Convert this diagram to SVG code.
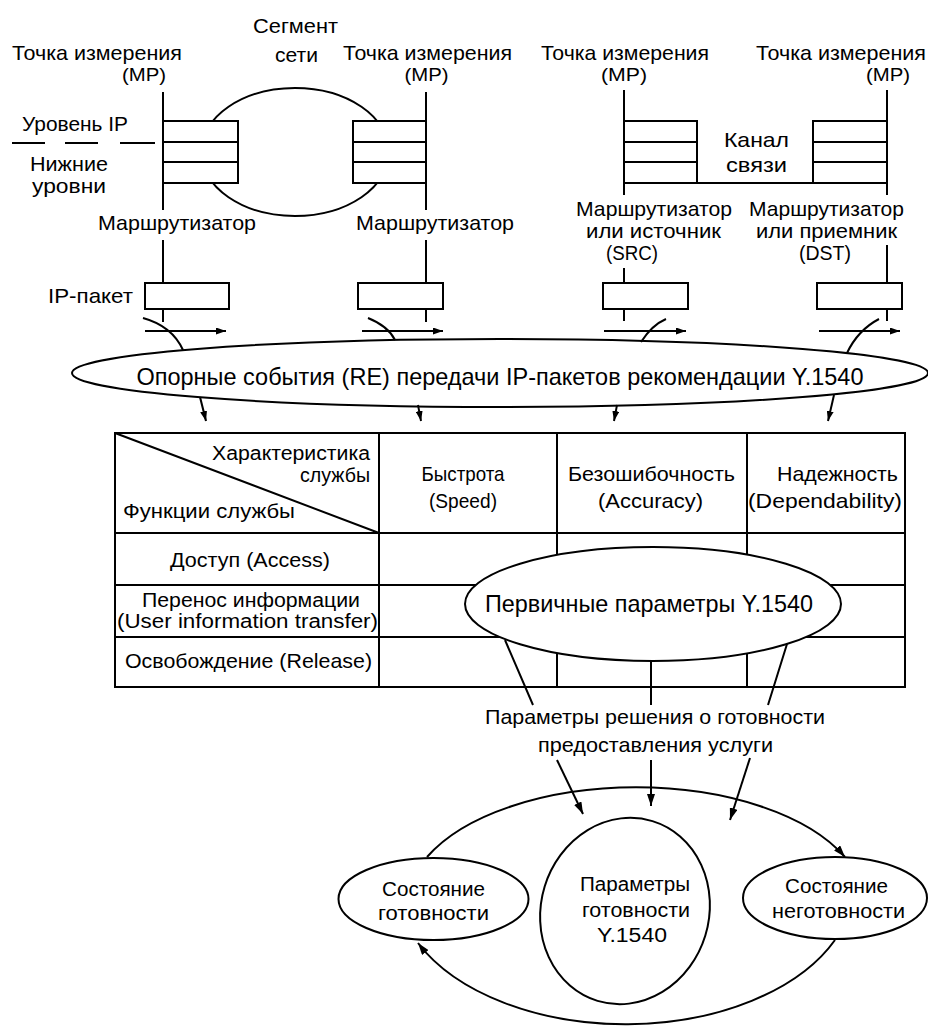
<svg xmlns="http://www.w3.org/2000/svg" width="928" height="1027" viewBox="0 0 928 1027">
<style>
.t{font-family:"Liberation Sans",Arial,sans-serif;font-size:21px;fill:#000}
.tb{font-size:20px}
.tc{font-size:21px}
.mp{font-size:19px}
.lv{font-size:20px}
.big{font-size:24px}
.m{text-anchor:middle}
.ln{stroke:#000;stroke-width:2;fill:none}
.wf{fill:#fff;stroke:#000;stroke-width:2}
</style>
<defs>
<marker id="ah" viewBox="0 0 12 8" refX="12" refY="4" markerWidth="12" markerHeight="8" markerUnits="userSpaceOnUse" orient="auto"><path d="M0,0 L12,4 L0,8 z" fill="#000"/></marker>
<marker id="ahs" viewBox="0 0 10 7" refX="10" refY="3.5" markerWidth="10" markerHeight="7" markerUnits="userSpaceOnUse" orient="auto"><path d="M0,0 L10,3.5 L0,7 z" fill="#000"/></marker>
</defs>
<rect width="928" height="1027" fill="#fff"/>

<g id="segment">
<ellipse class="ln" cx="295" cy="152" rx="94" ry="64"/>
<text class="t m" x="295.5" y="33" textLength="85" lengthAdjust="spacingAndGlyphs">Сегмент</text>
<text class="t m" x="296.5" y="62" textLength="43" lengthAdjust="spacingAndGlyphs">сети</text>
</g>

<g id="levels">
<path class="ln" d="M12,143H45M65,143H98M120,143H155"/>
<text class="t" x="22" y="131" textLength="106" lengthAdjust="spacingAndGlyphs">Уровень IP</text>
<text class="t lv" x="30" y="171" textLength="78" lengthAdjust="spacingAndGlyphs">Нижние</text>
<text class="t lv" x="32" y="193" textLength="74" lengthAdjust="spacingAndGlyphs">уровни</text>
</g>

<g id="mp1">
<text class="t m" x="97" y="60" textLength="170" lengthAdjust="spacingAndGlyphs">Точка измерения</text>
<text class="t mp m" x="144" y="81" textLength="44" lengthAdjust="spacingAndGlyphs">(MP)</text>
<path class="ln" d="M163,92V210M163,240V283M163,309V322"/>
<rect class="wf" x="163" y="121" width="75" height="62"/>
<path class="ln" d="M163,142H238M163,162H238"/>
<text class="t m" x="177" y="230" textLength="158" lengthAdjust="spacingAndGlyphs">Маршрутизатор</text>
<rect class="wf" x="145" y="283" width="84" height="26"/>
<text class="t m" x="90.5" y="303" textLength="85" lengthAdjust="spacingAndGlyphs">IP-пакет</text>
</g>

<g id="mp2">
<text class="t m" x="427.5" y="60" textLength="169" lengthAdjust="spacingAndGlyphs">Точка измерения</text>
<text class="t mp m" x="426.5" y="81" textLength="44" lengthAdjust="spacingAndGlyphs">(MP)</text>
<path class="ln" d="M426,92V210M426,240V283M426,309V322"/>
<rect class="wf" x="353" y="121" width="73" height="62"/>
<path class="ln" d="M353,142H426M353,162H426"/>
<text class="t m" x="435" y="230" textLength="158" lengthAdjust="spacingAndGlyphs">Маршрутизатор</text>
<rect class="wf" x="358" y="283" width="85" height="26"/>
</g>

<g id="channel">
<path class="ln" d="M697,183H813"/>
<text class="t m" x="756.5" y="147" textLength="65" lengthAdjust="spacingAndGlyphs">Канал</text>
<text class="t m" x="756.5" y="172" textLength="61" lengthAdjust="spacingAndGlyphs">связи</text>
</g>

<g id="mp3">
<text class="t m" x="625" y="60" textLength="168" lengthAdjust="spacingAndGlyphs">Точка измерения</text>
<text class="t mp m" x="624" y="81" textLength="46" lengthAdjust="spacingAndGlyphs">(MP)</text>
<path class="ln" d="M624,90V195M624,268V283M624,309V321"/>
<rect class="wf" x="624" y="121" width="73" height="62"/>
<path class="ln" d="M624,142H697M624,162H697"/>
<text class="t m" x="654" y="216" textLength="156" lengthAdjust="spacingAndGlyphs">Маршрутизатор</text>
<text class="t m" x="653.5" y="238" textLength="135" lengthAdjust="spacingAndGlyphs">или источник</text>
<text class="t m" x="632" y="260" textLength="52" lengthAdjust="spacingAndGlyphs">(SRC)</text>
<rect class="wf" x="603" y="283" width="85" height="26"/>
</g>

<g id="mp4">
<text class="t m" x="841" y="60" textLength="170" lengthAdjust="spacingAndGlyphs">Точка измерения</text>
<text class="t mp m" x="888" y="81" textLength="44" lengthAdjust="spacingAndGlyphs">(MP)</text>
<path class="ln" d="M887,90V195M887,245V283M887,309V321"/>
<rect class="wf" x="813" y="121" width="74" height="62"/>
<path class="ln" d="M813,142H887M813,162H887"/>
<text class="t m" x="826.5" y="216" textLength="155" lengthAdjust="spacingAndGlyphs">Маршрутизатор</text>
<text class="t m" x="826.5" y="238" textLength="141" lengthAdjust="spacingAndGlyphs">или приемник</text>
<text class="t m" x="825" y="260" textLength="52" lengthAdjust="spacingAndGlyphs">(DST)</text>
<rect class="wf" x="817" y="283" width="85" height="26"/>
</g>

<g id="reference-events">
<ellipse class="wf" cx="500" cy="373" rx="428" ry="34"/>
<text class="t big m" x="500" y="385" textLength="727" lengthAdjust="spacingAndGlyphs">Опорные события (RE) передачи IP-пакетов рекомендации Y.1540</text>
</g>

<g id="table">
<rect class="ln" x="115" y="433" width="790" height="254"/>
<path class="ln" d="M379,433V687M557,433V687M747,433V687M115,533H905M115,585H905M115,637H905M115,433L379,533"/>
<text class="t tb" x="212" y="460" textLength="158" lengthAdjust="spacingAndGlyphs">Характеристика</text>
<text class="t tb" x="300" y="482" textLength="70" lengthAdjust="spacingAndGlyphs">службы</text>
<text class="t tb" x="123" y="518" textLength="172" lengthAdjust="spacingAndGlyphs">Функции службы</text>
<text class="t tc m" x="463" y="481" textLength="83" lengthAdjust="spacingAndGlyphs">Быстрота</text>
<text class="t tc m" x="463" y="508" textLength="68" lengthAdjust="spacingAndGlyphs">(Speed)</text>
<text class="t tc m" x="651.5" y="481" textLength="167" lengthAdjust="spacingAndGlyphs">Безошибочность</text>
<text class="t tc m" x="650.5" y="508" textLength="105" lengthAdjust="spacingAndGlyphs">(Accuracy)</text>
<text class="t tc m" x="837.5" y="481" textLength="121" lengthAdjust="spacingAndGlyphs">Надежность</text>
<text class="t tc m" x="825" y="508" textLength="154" lengthAdjust="spacingAndGlyphs">(Dependability)</text>
<text class="t tc m" x="250" y="567" textLength="160" lengthAdjust="spacingAndGlyphs">Доступ (Access)</text>
<text class="t tb m" x="251" y="607" textLength="218" lengthAdjust="spacingAndGlyphs">Перенос информации</text>
<text class="t tb m" x="247.5" y="628" textLength="261" lengthAdjust="spacingAndGlyphs">(User information transfer)</text>
<text class="t tc m" x="248.5" y="668" textLength="247" lengthAdjust="spacingAndGlyphs">Освобождение (Release)</text>
</g>

<g id="primary-params">
<ellipse class="wf" cx="653" cy="604" rx="188" ry="57"/>
<text class="t big m" x="649" y="612" textLength="328" lengthAdjust="spacingAndGlyphs">Первичные параметры Y.1540</text>
</g>

<g id="decision-params">
<text class="t m" x="655" y="724" font-size="22" textLength="340" lengthAdjust="spacingAndGlyphs">Параметры решения о готовности</text>
<text class="t m" x="655.5" y="752" font-size="22" textLength="235" lengthAdjust="spacingAndGlyphs">предоставления услуги</text>
</g>

<g id="connectors">
<path class="ln" marker-end="url(#ahs)" d="M145,331H226"/>
<path class="ln" marker-end="url(#ahs)" d="M362,331H443"/>
<path class="ln" marker-end="url(#ahs)" d="M604,331H686"/>
<path class="ln" marker-end="url(#ahs)" d="M819,331H900"/>
<path class="ln" d="M143,318Q172,326 183,350"/>
<path class="ln" d="M368,318Q388,326 395,340"/>
<path class="ln" d="M641,342Q652,325 666,319"/>
<path class="ln" d="M847,353Q858,330 879,319"/>
<path class="ln" marker-end="url(#ahs)" d="M200,397L206,421"/>
<path class="ln" marker-end="url(#ahs)" d="M418,405L421,421"/>
<path class="ln" marker-end="url(#ahs)" d="M617,405L614,421"/>
<path class="ln" marker-end="url(#ahs)" d="M834,395L828,421"/>
<path class="ln" d="M505,640L533,705M651,661V705M787,644L768,705"/>
<path class="ln" marker-end="url(#ah)" d="M557,760L583,814"/>
<path class="ln" marker-end="url(#ah)" d="M651,760V806"/>
<path class="ln" marker-end="url(#ah)" d="M750,758L730,820"/>
<path class="ln" marker-end="url(#ah)" d="M427,857A229,118 0 0 1 845,857"/>
<path class="ln" marker-end="url(#ah)" d="M835,940A229,141 0 0 1 418,943"/>
</g>

<g id="state-ready">
<ellipse class="wf" cx="433.5" cy="899" rx="95" ry="41"/>
<text class="t tb m" x="433.5" y="896" textLength="103" lengthAdjust="spacingAndGlyphs">Состояние</text>
<text class="t tb m" x="433.5" y="920" textLength="111" lengthAdjust="spacingAndGlyphs">готовности</text>
</g>

<g id="availability-params">
<ellipse class="wf" cx="625" cy="911" rx="84" ry="94" transform="rotate(17 625 911)"/>
<text class="t tb m" x="635" y="891" textLength="110" lengthAdjust="spacingAndGlyphs">Параметры</text>
<text class="t tb m" x="636" y="917" textLength="108" lengthAdjust="spacingAndGlyphs">готовности</text>
<text class="t tb m" x="632" y="942" textLength="70" lengthAdjust="spacingAndGlyphs">Y.1540</text>
</g>

<g id="state-unready">
<ellipse class="wf" cx="835" cy="898" rx="92" ry="41"/>
<text class="t tb m" x="836.5" y="893" textLength="103" lengthAdjust="spacingAndGlyphs">Состояние</text>
<text class="t tb m" x="838.5" y="918" textLength="133" lengthAdjust="spacingAndGlyphs">неготовности</text>
</g>
</svg>
